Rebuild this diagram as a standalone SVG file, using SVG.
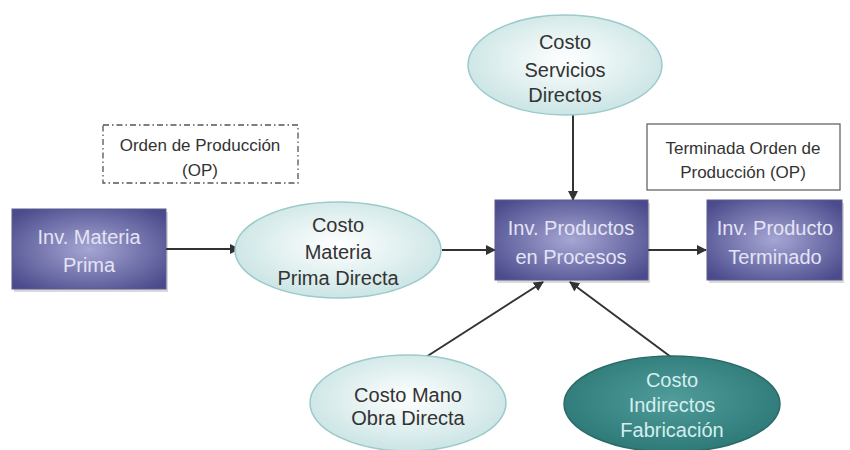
<svg xmlns="http://www.w3.org/2000/svg" width="850" height="450" viewBox="0 0 850 450">
<defs>
<radialGradient id="gRect" cx="50%" cy="50%" r="65%">
<stop offset="0" stop-color="#a6a6d4"/>
<stop offset="1" stop-color="#4a4a8c"/>
</radialGradient>
<radialGradient id="gLight" cx="50%" cy="45%" r="60%">
<stop offset="0" stop-color="#ffffff"/>
<stop offset="1" stop-color="#c6e2e2"/>
</radialGradient>
<radialGradient id="gDark" cx="50%" cy="45%" r="60%">
<stop offset="0" stop-color="#4f9c9a"/>
<stop offset="1" stop-color="#2a7775"/>
</radialGradient>
<marker id="arr" viewBox="0 0 10 10" refX="9" refY="5" markerWidth="5" markerHeight="5" orient="auto" markerUnits="strokeWidth">
<path d="M0,0 L10,5 L0,10 z" fill="#333"/>
</marker>
</defs>
<style>
.rect{fill:url(#gRect);stroke:#5a5a90;stroke-width:1}
.shadow{fill:#000;opacity:0.15}
.ell{fill:url(#gLight);stroke:#9ccaca;stroke-width:1.5}
.ellD{fill:url(#gDark);stroke:#2a6a68;stroke-width:1.5}
.tw{font-family:"Liberation Sans",Arial,sans-serif;font-size:20px;fill:#e4e4f4;text-anchor:middle}
.td{font-family:"Liberation Sans",Arial,sans-serif;font-size:20px;fill:#333;text-anchor:middle}
.tl{font-family:"Liberation Sans",Arial,sans-serif;font-size:20px;fill:#d6eeee;text-anchor:middle}
.ts{font-family:"Liberation Sans",Arial,sans-serif;font-size:17px;fill:#333;text-anchor:middle}
.conn{stroke:#333;stroke-width:2;fill:none;marker-end:url(#arr)}
</style>
<rect width="850" height="450" fill="#ffffff"/>
<g id="connectors">
<line class="conn" x1="166" y1="249" x2="239" y2="249"/>
<line class="conn" x1="442" y1="250" x2="495" y2="250"/>
<line class="conn" x1="573" y1="115" x2="573" y2="200"/>
<line class="conn" x1="648" y1="250" x2="706" y2="250"/>
<line class="conn" x1="426" y1="357" x2="543" y2="282"/>
<line class="conn" x1="671" y1="357" x2="570" y2="282"/>
</g>
<g id="orden-op">
<rect x="103" y="125" width="195" height="58" fill="#fff" stroke="#555" stroke-width="1.3" stroke-dasharray="6,3,1.5,3"/>
<text class="ts" x="200" y="151">Orden de Producción</text>
<text class="ts" x="200" y="176">(OP)</text>
</g>
<g id="terminada-op">
<rect x="647" y="124" width="193" height="66" fill="#fff" stroke="#666" stroke-width="1.3"/>
<text class="ts" x="743" y="154">Terminada Orden de</text>
<text class="ts" x="743" y="178">Producción (OP)</text>
</g>
<g id="inv-materia-prima">
<rect class="shadow" x="14" y="212" width="154" height="80"/>
<rect class="rect" x="12" y="209" width="154" height="80"/>
<text class="tw" x="89" y="244">Inv. Materia</text>
<text class="tw" x="89" y="272">Prima</text>
</g>
<g id="costo-materia-prima">
<ellipse class="ell" cx="338" cy="250" rx="103" ry="48"/>
<text class="td" x="338" y="232">Costo</text>
<text class="td" x="338" y="259">Materia</text>
<text class="td" x="338" y="285">Prima Directa</text>
</g>
<g id="costo-servicios">
<ellipse class="ell" cx="565" cy="65" rx="97" ry="50"/>
<text class="td" x="565" y="49">Costo</text>
<text class="td" x="565" y="77">Servicios</text>
<text class="td" x="565" y="102">Directos</text>
</g>
<g id="inv-productos-procesos">
<rect class="shadow" x="497" y="203" width="153" height="80"/>
<rect class="rect" x="495" y="200" width="153" height="80"/>
<text class="tw" x="571" y="235">Inv. Productos</text>
<text class="tw" x="571" y="264">en Procesos</text>
</g>
<g id="inv-producto-terminado">
<rect class="shadow" x="709" y="203" width="135" height="80"/>
<rect class="rect" x="707" y="200" width="135" height="80"/>
<text class="tw" x="775" y="235">Inv. Producto</text>
<text class="tw" x="775" y="264">Terminado</text>
</g>
<g id="costo-mano-obra">
<ellipse class="ell" cx="408" cy="403" rx="98" ry="48"/>
<text class="td" x="408" y="402">Costo Mano</text>
<text class="td" x="408" y="425">Obra Directa</text>
</g>
<g id="costo-indirectos">
<ellipse class="ellD" cx="672" cy="404" rx="108" ry="48"/>
<text class="tl" x="672" y="387">Costo</text>
<text class="tl" x="672" y="412">Indirectos</text>
<text class="tl" x="672" y="437">Fabricación</text>
</g>
</svg>
